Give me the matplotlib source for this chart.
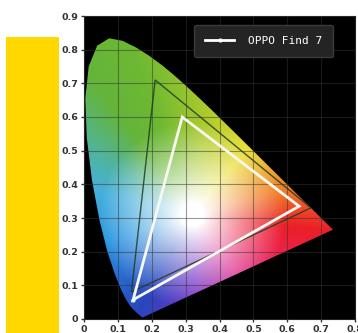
import numpy as np
import matplotlib
matplotlib.use('Agg')
import matplotlib.pyplot as plt
from matplotlib.patches import Polygon, Rectangle

# CIE 1931 spectral locus (xy), 380-700 nm
locus_x = [0.1741, 0.1738, 0.1733, 0.1726, 0.1714, 0.1689, 0.1644, 0.1566, 0.1440,
           0.1355, 0.1241, 0.1096, 0.0913, 0.0687, 0.0454, 0.0235, 0.0082, 0.0039,
           0.0139, 0.0389, 0.0743, 0.1142, 0.1547, 0.1929, 0.2296, 0.2658, 0.3016,
           0.3373, 0.3731, 0.4087, 0.4441, 0.4788, 0.5125, 0.5448, 0.5752, 0.6029,
           0.6270, 0.6658, 0.6915, 0.7079, 0.7190, 0.7260, 0.7300, 0.7334, 0.7347]
locus_y = [0.0050, 0.0049, 0.0048, 0.0048, 0.0051, 0.0069, 0.0109, 0.0177, 0.0297,
           0.0399, 0.0578, 0.0868, 0.1327, 0.2007, 0.2950, 0.4127, 0.5384, 0.6548,
           0.7502, 0.8120, 0.8338, 0.8262, 0.8059, 0.7816, 0.7543, 0.7243, 0.6923,
           0.6589, 0.6245, 0.5896, 0.5547, 0.5202, 0.4866, 0.4544, 0.4242, 0.3965,
           0.3725, 0.3340, 0.3083, 0.2920, 0.2809, 0.2740, 0.2700, 0.2666, 0.2653]

# reference gamut (dark) and measured gamut (white)
ntsc_x = [0.67, 0.21, 0.14]
ntsc_y = [0.33, 0.71, 0.08]
oppo_x = [0.635, 0.29, 0.145]
oppo_y = [0.335, 0.60, 0.057]
legend_label = 'OPPO Find 7'

xticks = [0, 0.1, 0.2, 0.3, 0.4, 0.5, 0.6, 0.7, 0.8]
xlabels = ['0', '0.1', '0.2', '0.3', '0.4', '0.5', '0.6', '0.7', '0.8']
yticks = [0, 0.1, 0.2, 0.3, 0.4, 0.5, 0.6, 0.7, 0.8, 0.9]
ylabels = ['0', '0.1', '0.2', '0.3', '0.4', '0.5', '0.6', '0.7', '0.8', '0.9']

# look of the horseshoe: colour at the rim by angle around the white point
white_pt = (0.32, 0.31)
rim_angles = [13.6, 49.9, 86.4, 109.6, 127, 147.7, 166, 198, 241, 272, 305, 334, 353]
rim_colors = [(240, 120, 40), (235, 220, 45), (165, 200, 45),
              (110, 185, 50), (100, 180, 60), (80, 180, 160), (70, 175, 220),
              (40, 150, 225), (40, 70, 190), (120, 50, 200), (220, 50, 150),
              (235, 35, 80), (236, 30, 40)]

fig = plt.figure(figsize=(3.58, 3.33), dpi=100)
fig.patch.set_facecolor('white')
fig.add_artist(Rectangle((6/358, 0), 53/358, (333-37)/333, transform=fig.transFigure,
                         color='#FFD800', lw=0))

ax = fig.add_axes([84/358, 14/333, 271/358, 303/333])
ax.set_facecolor('black')

n = 400
gx, gy = np.meshgrid(np.linspace(0, 0.8, n), np.linspace(0, 0.9, n))
ang = np.degrees(np.arctan2(gy - white_pt[1], gx - white_pt[0])) % 360
rad = np.hypot(gx - white_pt[0], gy - white_pt[1])
mix = np.clip((rad - 0.035) / 0.24, 0, 1) ** 0.9

rc = np.array(rim_colors) / 255.0
rgb = np.empty(gx.shape + (3,))
for k in range(3):
    rim = np.interp(ang, rim_angles, rc[:, k], period=360)
    rgb[..., k] = (1 - mix) * 1.0 + mix * rim
rgb = np.clip(rgb, 0, 1)

im = ax.imshow(rgb, extent=(0, 0.8, 0, 0.9), origin='lower', aspect='auto',
               interpolation='bilinear', zorder=1)
clip = Polygon(np.column_stack([locus_x, locus_y]), closed=True, transform=ax.transData)
im.set_clip_path(clip)

ax.set_axisbelow(False)
ax.grid(True, color='#333333', lw=0.8, alpha=0.5)

ax.fill(ntsc_x, ntsc_y, fill=False, ec='#1f3d26', lw=1.0, alpha=0.85, zorder=3)
ax.fill(oppo_x, oppo_y, fill=False, ec='#f8f8f0', lw=2, zorder=4)
ax.plot(oppo_x[2], oppo_y[2], 'o', ms=2, color='#dff', zorder=5)
ax.plot([], [], '-', color='white', lw=2, marker='.', ms=4, label=legend_label)

leg = ax.legend(loc='upper right', facecolor='#242424', edgecolor='#3a3a3a',
                framealpha=1, handlelength=2.6, handletextpad=1.2,
                prop={'family': 'DejaVu Sans Mono', 'size': 8},
                borderpad=1.0, borderaxespad=0, bbox_to_anchor=(0.919, 0.97))
for t in leg.get_texts():
    t.set_color('white')

ax.set_xlim(0, 0.8)
ax.set_ylim(0, 0.9)
ax.set_xticks(xticks)
ax.set_xticklabels(xlabels)
ax.set_yticks(yticks)
ax.set_yticklabels(ylabels)
ax.tick_params(direction='out', length=2.5, width=1, color='#333333',
               labelsize=6.8, labelcolor='#333333', pad=1.5)
for lab in ax.get_xticklabels() + ax.get_yticklabels():
    lab.set_fontweight('bold')
for s in ax.spines.values():
    s.set_color('#222222')

fig.savefig('out.png', dpi=100)
